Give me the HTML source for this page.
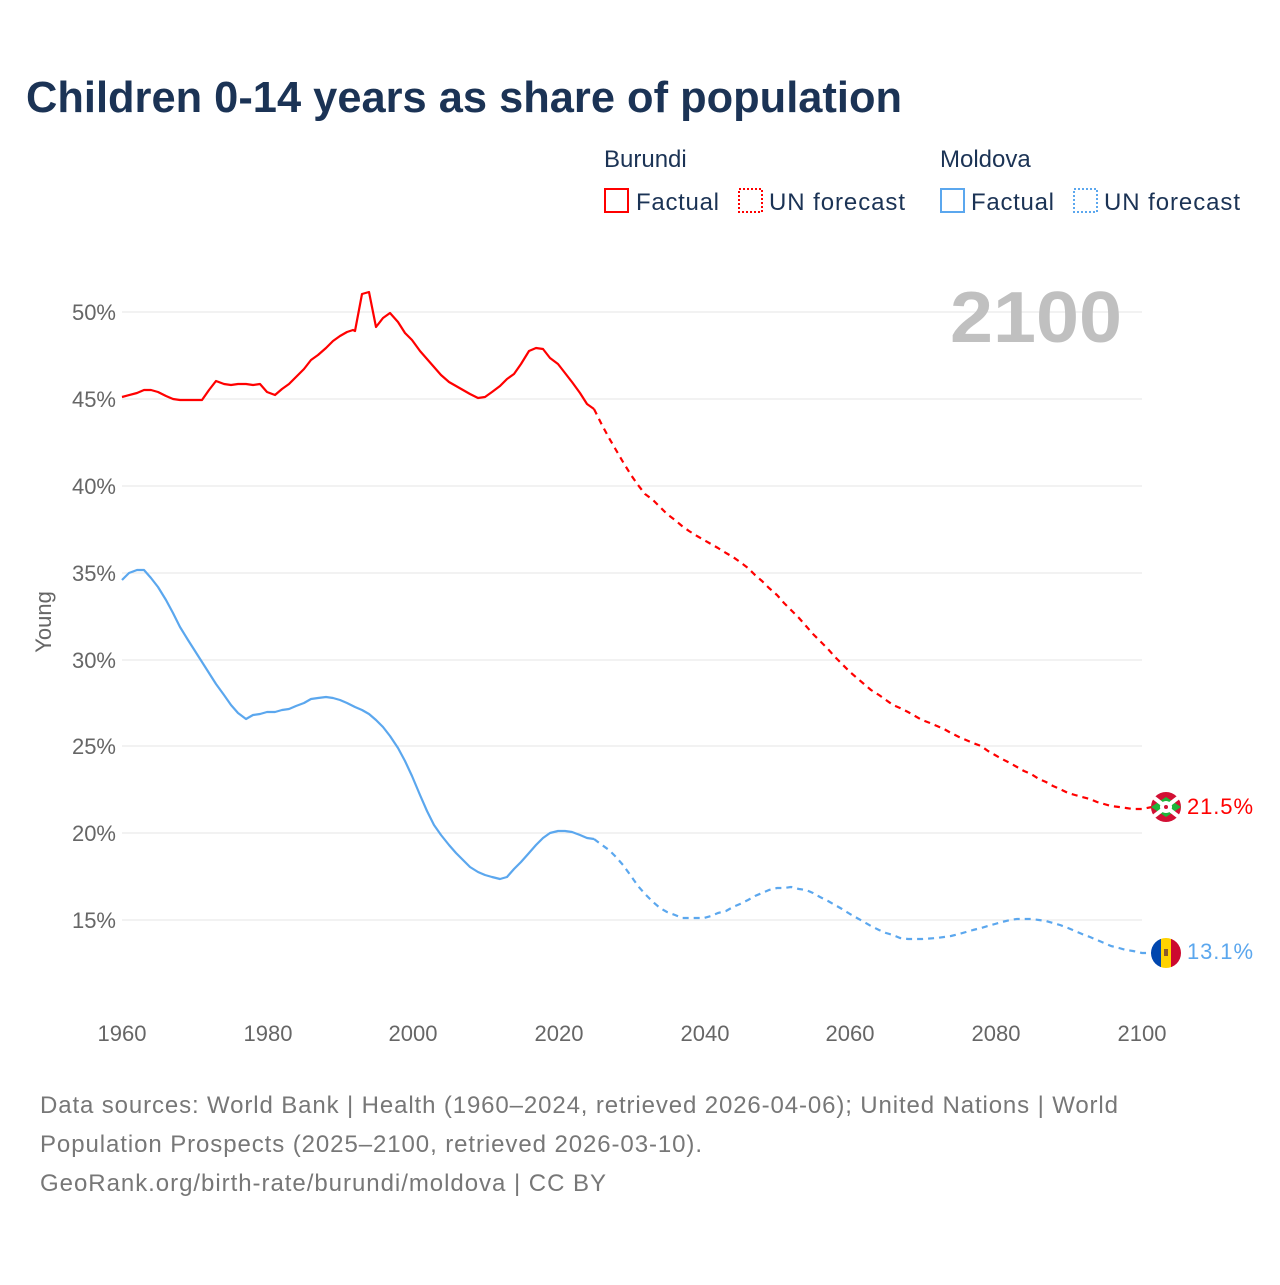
<!DOCTYPE html>
<html><head><meta charset="utf-8"><style>
body{margin:0;width:1280px;height:1280px;background:#fff;font-family:"Liberation Sans",sans-serif;overflow:hidden}
</style></head><body>
<svg width="1280" height="1280" xmlns="http://www.w3.org/2000/svg" font-family="Liberation Sans, sans-serif">
<text x="26" y="112" font-size="44" font-weight="bold" fill="#1b3355" textLength="876" lengthAdjust="spacingAndGlyphs">Children 0-14 years as share of population</text>
<g font-size="24" fill="#1b3355">
<text x="604" y="167">Burundi</text><text x="940" y="167">Moldova</text>
<rect x="605" y="189" width="23" height="23" fill="none" stroke="#f00" stroke-width="2"/><text x="636" y="210" textLength="83">Factual</text>
<rect x="739" y="189" width="23" height="23" fill="none" stroke="#f00" stroke-width="2" stroke-dasharray="2,2"/><text x="769" y="210" textLength="136">UN forecast</text>
<rect x="941" y="189" width="23" height="23" fill="none" stroke="#5ba7ee" stroke-width="2"/><text x="971" y="210" textLength="83">Factual</text>
<rect x="1074" y="189" width="23" height="23" fill="none" stroke="#5ba7ee" stroke-width="2" stroke-dasharray="2,2"/><text x="1104" y="210" textLength="136">UN forecast</text>
</g>
<g stroke="#e6e6e6" stroke-width="1">
<line x1="122" x2="1142" y1="312" y2="312"/><line x1="122" x2="1142" y1="399" y2="399"/><line x1="122" x2="1142" y1="486" y2="486"/><line x1="122" x2="1142" y1="573" y2="573"/><line x1="122" x2="1142" y1="660" y2="660"/><line x1="122" x2="1142" y1="746" y2="746"/><line x1="122" x2="1142" y1="833" y2="833"/><line x1="122" x2="1142" y1="920" y2="920"/>
</g>
<g font-size="22" fill="#666" text-anchor="end">
<text x="116" y="320">50%</text><text x="116" y="407">45%</text><text x="116" y="494">40%</text><text x="116" y="581">35%</text><text x="116" y="668">30%</text><text x="116" y="754">25%</text><text x="116" y="841">20%</text><text x="116" y="928">15%</text>
</g>
<g font-size="22" fill="#666" text-anchor="middle">
<text x="122" y="1041">1960</text><text x="268" y="1041">1980</text><text x="413" y="1041">2000</text><text x="559" y="1041">2020</text><text x="705" y="1041">2040</text><text x="850" y="1041">2060</text><text x="996" y="1041">2080</text><text x="1142" y="1041">2100</text>
</g>
<text transform="translate(51,622) rotate(-90)" font-size="22" fill="#666" text-anchor="middle">Young</text>
<text x="1122" y="342" font-size="72" font-weight="bold" fill="#c0c0c0" text-anchor="end" textLength="172" lengthAdjust="spacingAndGlyphs">2100</text>
<g fill="none" stroke-width="2.2" stroke-linejoin="round">
<polyline stroke="#f00" points="122,397 137,393 144,390 151,390 158,392 166,396 173,399 180,400 195,400 202,400 209,390 216,381 224,384 231,385 238,384 246,384 253,385 260,384 267,392 275,395 282,389 289,384 296,377 304,369 311,360 318,355 326,348 333,341 340,336 347,332 353,330 355,331 362,294 369,292 376,327 383,318 390,313 398,322 405,333 412,340 420,351 427,359 434,367 441,375 449,382 456,386 463,390 470,394 478,398 485,397 492,392 500,386 507,379 514,374 521,364 529,351 536,348 543,349 550,358 558,364 565,373 572,382 580,393 587,404 594,409"/>
<polyline stroke="#f00" stroke-dasharray="6,5" points="594,409 602,425 609,438 616,450 623,462 631,475 638,485 645,494 653,500 660,507 667,514 675,520 682,526 689,531 697,536 704,540 711,544 718,548 726,553 733,557 740,562 748,568 755,575 762,581 769,588 777,595 784,603 791,610 799,618 806,626 813,634 820,641 828,649 835,657 842,664 850,672 857,678 864,684 871,690 879,695 886,700 893,705 900,708 908,712 915,716 922,720 930,723 937,726 944,729 951,733 959,737 966,740 973,743 981,746 988,751 995,755 1002,759 1010,763 1017,767 1024,771 1031,774 1039,779 1046,782 1053,786 1060,789 1068,793 1075,795 1082,797 1090,799 1097,802 1104,804 1111,806 1119,807 1126,808 1133,809 1142,809 1152,807"/>
<polyline stroke="#5ba7ee" points="122,580 129,573 137,570 144,570 151,578 158,587 166,600 173,613 180,627 188,640 195,651 202,662 209,673 216,684 224,695 231,705 238,713 246,719 253,715 260,714 267,712 275,712 282,710 289,709 296,706 304,703 311,699 318,698 326,697 333,698 340,700 347,703 355,707 362,710 369,714 376,720 383,727 390,736 398,748 405,761 412,776 420,795 427,811 434,825 441,835 449,845 456,853 463,860 470,867 478,872 485,875 492,877 500,879 507,877 514,869 521,862 529,853 536,845 543,838 550,833 558,831 565,831 572,832 580,835 587,838 594,839"/>
<polyline stroke="#5ba7ee" stroke-dasharray="6,5" points="594,839 602,845 609,850 616,857 623,865 631,876 638,886 645,894 653,902 660,908 667,912 675,915 682,918 689,918 697,918 704,918 711,916 718,913 726,911 733,907 740,904 748,900 755,896 762,893 769,890 777,888 784,888 791,887 799,889 806,890 813,893 820,897 828,901 835,905 842,909 850,914 857,918 864,922 871,926 879,930 886,933 893,935 900,938 908,939 922,939 937,938 951,936 959,934 966,932 973,930 981,928 988,926 995,924 1002,922 1010,920 1017,919 1024,919 1031,919 1039,920 1046,921 1053,923 1060,925 1068,928 1075,931 1082,934 1090,937 1097,940 1104,943 1111,946 1119,948 1126,950 1133,951 1142,953 1152,953"/>
</g>
<g>
<circle cx="1166" cy="807" r="15" fill="#d21034"/>
<path d="M1151,807 L1166,797 L1181,807 L1166,817Z" fill="#1eb53a"/>
<path d="M1153,797 L1179,817 M1153,817 L1179,797" stroke="#fff" stroke-width="4"/>
<circle cx="1166" cy="807" r="6" fill="#fff"/>
<circle cx="1166" cy="807" r="2" fill="#d21034"/>
</g>
<g>
<clipPath id="c"><circle cx="1166" cy="953" r="15"/></clipPath>
<g clip-path="url(#c)"><rect x="1150" y="937" width="11" height="32" fill="#0046ae"/><rect x="1161" y="937" width="10" height="32" fill="#ffd200"/><rect x="1171" y="937" width="12" height="32" fill="#cc092f"/><rect x="1164" y="949" width="4" height="7" fill="#8b5a2b"/></g>
</g>
<text x="1187" y="814" font-size="22" fill="#f00" textLength="66">21.5%</text>
<text x="1187" y="959" font-size="22" fill="#5ba7ee" textLength="66">13.1%</text>
<g font-size="24" fill="#777">
<text x="40" y="1113" textLength="1078">Data sources: World Bank | Health (1960–2024, retrieved 2026-04-06); United Nations | World</text>
<text x="40" y="1152" textLength="662">Population Prospects (2025–2100, retrieved 2026-03-10).</text>
<text x="40" y="1191" textLength="566">GeoRank.org/birth-rate/burundi/moldova | CC BY</text>
</g>
</svg>
</body></html>
